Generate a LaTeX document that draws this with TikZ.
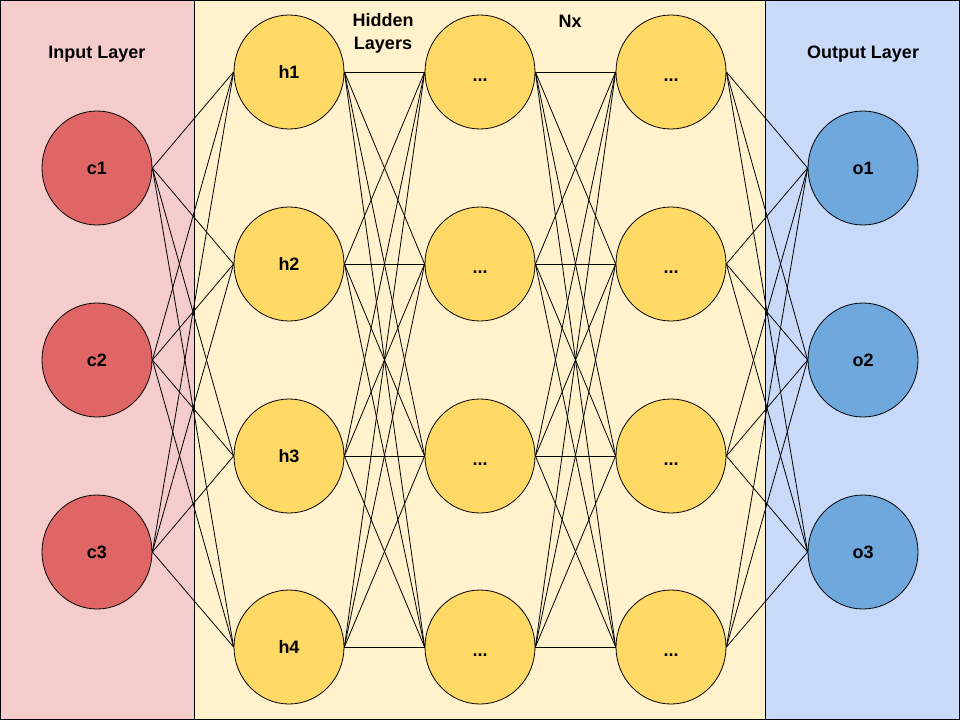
\documentclass[tikz,border=0pt]{standalone}
\usepackage{fontspec}
\setmainfont{Liberation Sans}
\usepackage{tikz}
\usetikzlibrary{positioning}
\definecolor{inPanelCol}{RGB}{244, 204, 204}
\definecolor{hidPanelCol}{RGB}{255, 242, 204}
\definecolor{outPanelCol}{RGB}{201, 218, 248}
\definecolor{inNodeCol}{RGB}{224, 102, 102}
\definecolor{hidNodeCol}{RGB}{255, 217, 102}
\definecolor{outNodeCol}{RGB}{111, 168, 220}
\tikzset{myPanel/.style={draw=black, line width=0.9pt}}
\tikzset{myNeuron/.style={ellipse, draw=black, line width=0.8pt, minimum width=110pt, minimum height=114pt, inner sep=0pt, text height=13pt, text depth=0pt, font=\fontsize{18}{22}\selectfont\bfseries}}
\tikzset{myEdge/.style={line width=0.8pt, color=black}}
\tikzset{myTitle/.style={font=\fontsize{18}{23}\selectfont\bfseries, align=center}}
\usetikzlibrary{shapes.geometric}
\newcommand{\colA}{97}
\newcommand{\colB}{289}
\newcommand{\colC}{480}
\newcommand{\colD}{671}
\newcommand{\colE}{863}
\newcommand{\myDots}{\raisebox{-3pt}{...}}

\begin{document}
\begin{tikzpicture}[x=1pt, y=-1pt]
	\useasboundingbox (0,0) rectangle (960,720);
	\draw[myPanel, fill=inPanelCol](0.5,0.5) rectangle (194,719.5);
	\draw[myPanel, fill=hidPanelCol](194,0.5) rectangle (765,719.5);
	\draw[myPanel, fill=outPanelCol](765,0.5) rectangle (959.5,719.5);

	\node[myTitle] (inTitle) at (\colA,54) {Input Layer};
	\node[myTitle] (hidTitle) at (383,33) {Hidden\\Layers};
	\node[myTitle] (nxTitle) at (570,21) {Nx};
	\node[myTitle] (outTitle) at (\colE,54) {Output Layer};

	% input layer
	\node[myNeuron, fill=inNodeCol] (c1) at (\colA,168) {c1};
	\node[myNeuron, fill=inNodeCol] (c2) at (\colA,360) {c2};
	\node[myNeuron, fill=inNodeCol] (c3) at (\colA,552) {c3};

	% hidden layers
	\node[myNeuron, fill=hidNodeCol] (h1) at (\colB,72) {h1};
	\node[myNeuron, fill=hidNodeCol] (h2) at (\colB,264) {h2};
	\node[myNeuron, fill=hidNodeCol] (h3) at (\colB,456) {h3};
	\node[myNeuron, fill=hidNodeCol] (h4) at (\colB,647) {h4};
	\node[myNeuron, fill=hidNodeCol] (m1) at (\colC,72) {\myDots};
	\node[myNeuron, fill=hidNodeCol] (m2) at (\colC,264) {\myDots};
	\node[myNeuron, fill=hidNodeCol] (m3) at (\colC,456) {\myDots};
	\node[myNeuron, fill=hidNodeCol] (m4) at (\colC,647) {\myDots};
	\node[myNeuron, fill=hidNodeCol] (n1) at (\colD,72) {\myDots};
	\node[myNeuron, fill=hidNodeCol] (n2) at (\colD,264) {\myDots};
	\node[myNeuron, fill=hidNodeCol] (n3) at (\colD,456) {\myDots};
	\node[myNeuron, fill=hidNodeCol] (n4) at (\colD,647) {\myDots};

	% output layer
	\node[myNeuron, fill=outNodeCol] (o1) at (\colE,168) {o1};
	\node[myNeuron, fill=outNodeCol] (o2) at (\colE,360) {o2};
	\node[myNeuron, fill=outNodeCol] (o3) at (\colE,552) {o3};

	% connections
	\foreach \i in {1,2,3}{
		\foreach \j in {1,2,3,4}{
			\draw[myEdge](c\i.east)--(h\j.west);
			\draw[myEdge](n\j.east)--(o\i.west);
		}
	}
	\foreach \i in {1,2,3,4}{
		\foreach \j in {1,2,3,4}{
			\draw[myEdge](h\i.east)--(m\j.west);
			\draw[myEdge](m\i.east)--(n\j.west);
		}
	}
\end{tikzpicture}
\end{document}
